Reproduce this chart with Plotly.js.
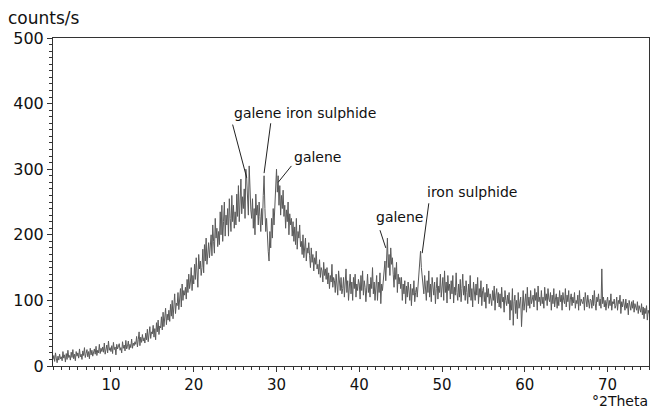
<!DOCTYPE html>
<html><head><meta charset="utf-8">
<script src="https://cdn.plot.ly/plotly-3.0.1.min.js"></script>
<style>html,body{margin:0;padding:0;background:#fff}</style>
</head><body><div id="chart" style="width:656px;height:412px"></div>
<script>
// 2-theta start, step and counts/s (read per degree, 10 samples per degree)
const twoThetaStart = 3.0;
const twoThetaStep = 0.1;
const counts = [
 10,16,7,20,12,5,15,9,18,11,
 14,8,22,12,17,6,19,10,24,13,
 16,9,21,13,25,11,18,8,22,15,
 20,12,26,14,18,10,23,16,28,13,
 19,25,14,22,11,27,17,24,15,21,
 26,18,30,16,24,20,33,19,27,22,
 29,21,35,18,26,32,20,38,24,28,
 22,31,19,36,25,29,17,33,26,30,
 34,24,28,20,37,27,32,23,39,26,
 30,38,25,33,28,41,27,35,31,37,
 33,45,29,40,52,31,44,36,48,38,
 43,35,50,40,56,37,47,60,42,52,
 49,62,44,57,40,66,52,70,48,61,
 58,75,55,82,60,72,88,63,79,70,
 85,68,94,76,100,72,90,110,80,96,
 92,112,86,105,118,90,125,100,115,108,
 120,102,132,112,140,118,128,150,115,138,
 125,155,132,165,140,120,170,148,160,138,
 150,178,142,185,160,195,155,172,188,165,
 180,200,168,215,190,172,225,195,210,182,
 205,185,235,200,245,190,220,250,198,230,
 215,240,198,255,225,205,260,220,245,210,
 235,215,262,228,275,220,250,285,232,258,
 240,270,225,300,285,250,230,305,260,238,
 225,255,210,240,200,262,230,245,215,250,
 228,205,240,215,260,290,240,205,225,190,
 175,160,205,180,225,195,240,215,255,275,
 300,265,290,245,275,230,260,240,268,228,
 245,210,238,220,250,200,232,215,225,198,
 220,190,212,185,225,178,205,195,215,182,
 190,170,200,165,185,195,160,180,172,188,
 168,150,180,158,170,145,165,155,175,148,
 155,140,162,135,150,145,128,158,138,148,
 132,150,125,142,118,138,128,155,120,135,
 130,112,140,120,108,145,125,115,135,110,
 118,135,105,128,148,112,130,100,125,140,
 110,128,100,135,118,140,105,125,115,132,
 125,102,138,115,145,108,130,120,98,128,
 140,112,125,105,135,118,150,110,128,100,
 120,138,100,128,112,142,95,125,115,135,
 145,160,130,185,195,150,170,138,180,155,
 165,140,120,150,132,158,112,140,125,135,
 118,135,100,125,110,130,95,122,105,128,
 115,100,125,92,118,108,130,98,112,120,
 105,125,138,165,175,150,135,128,110,138,
 120,100,130,112,145,105,125,98,135,115,
 108,128,95,118,135,102,122,112,140,105,
 118,135,100,145,112,128,96,138,115,125,
 102,130,110,138,96,120,108,142,112,100,
 125,105,132,98,118,140,108,122,100,130,
 112,95,125,105,138,100,118,90,128,110,
 100,125,108,135,95,118,105,130,92,115,
 120,98,112,88,125,105,118,95,110,102,
 92,115,100,122,85,108,118,96,112,90,
 110,88,120,98,105,82,115,100,92,108,
 95,112,70,100,85,118,62,98,108,80,
 100,72,112,88,95,105,60,92,115,85,
 98,110,82,120,92,105,88,115,95,102,
 108,90,118,100,112,85,122,98,105,92,
 115,95,105,88,120,100,110,92,118,102,
 98,112,85,108,95,118,90,102,110,88,
 105,92,115,98,108,85,112,100,95,118,
 90,108,98,115,85,102,110,92,105,96,
 112,88,100,95,108,85,115,92,102,98,
 95,105,85,112,98,90,108,100,88,102,
 100,88,108,92,115,95,85,105,98,110,
 92,102,88,148,95,105,90,100,85,98,
 105,88,100,92,110,85,98,95,102,88,
 92,105,85,100,95,108,80,98,90,102,
 95,85,102,88,96,78,100,90,85,98,
 88,100,82,95,90,85,98,80,92,88,
 82,95,78,90,72,88,80,92,70,85,
 80
];
const twoTheta = counts.map((_, i) => +(twoThetaStart + i * twoThetaStep).toFixed(1));

const xTicks = [10, 20, 30, 40, 50, 60, 70];
const yTicks = [0, 100, 200, 300, 400, 500];

// peak labels
const labelTexts = ["galene iron sulphide", "galene", "galene", "iron sulphide"];
const labelX = [24.57, 31.9, 41.8, 47.9];
const labelY = [386, 319, 227, 265];
// leader lines: [x0, y0, x1, y1]
const leaders = [
  [24.7, 368, 26.4, 287],
  [29.3, 370, 28.5, 294],
  [31.8, 305, 30.2, 280],
  [42.5, 207, 43.2, 180],
  [48.4, 248, 47.6, 172]
];

const F = "DejaVu Sans, Arial, sans-serif";
const axisCommon = {
  showline: true, linecolor: '#333', linewidth: 1, mirror: true,
  ticks: 'outside', tickcolor: '#333', tickwidth: 1,
  showgrid: false, zeroline: false,
  tickfont: {family: F, size: 16, color: '#111'}
};

const layout = {
  width: 656, height: 412,
  margin: {l: 53, r: 7, t: 38, b: 46},
  paper_bgcolor: '#fff', plot_bgcolor: '#fff',
  showlegend: false,
  xaxis: Object.assign({}, axisCommon, {
    range: [3, 75], tickvals: xTicks, ticklen: 5,
    tickfont: {family: F, size: 15, color: '#111'},
    minor: {dtick: 1, ticklen: 3, ticks: 'outside', tickcolor: '#333', showgrid: false}
  }),
  yaxis: Object.assign({}, axisCommon, {
    range: [0, 500], tickvals: yTicks, ticklen: 5,
    minor: {dtick: 10, ticklen: 3, ticks: 'outside', tickcolor: '#333', showgrid: false}
  }),
  annotations: labelTexts.map((t, i) => ({
    text: t, x: labelX[i], y: labelY[i], xref: 'x', yref: 'y',
    xanchor: 'left', yanchor: 'middle', showarrow: false,
    font: {family: F, size: 14, color: '#111'}
  })).concat([
    {text: 'counts/s', xref: 'paper', yref: 'paper', x: -0.079, y: 1.061,
     xanchor: 'left', yanchor: 'middle', showarrow: false, font: {family: F, size: 17, color: '#111'}},
    {text: '°2Theta', xref: 'paper', yref: 'paper', x: 1.002, y: -0.137,
     xanchor: 'right', yanchor: 'bottom', showarrow: false, font: {family: F, size: 14, color: '#111'}}
  ]),
  shapes: leaders.map(l => ({
    type: 'line', xref: 'x', yref: 'y', x0: l[0], y0: l[1], x1: l[2], y1: l[3],
    line: {color: '#222', width: 1}
  }))
};

Plotly.newPlot('chart', [{
  x: twoTheta, y: counts, type: 'scatter', mode: 'lines',
  line: {color: '#5a5a5a', width: 1}, hoverinfo: 'skip'
}], layout, {staticPlot: true, displayModeBar: false});
</script>
</body></html>
